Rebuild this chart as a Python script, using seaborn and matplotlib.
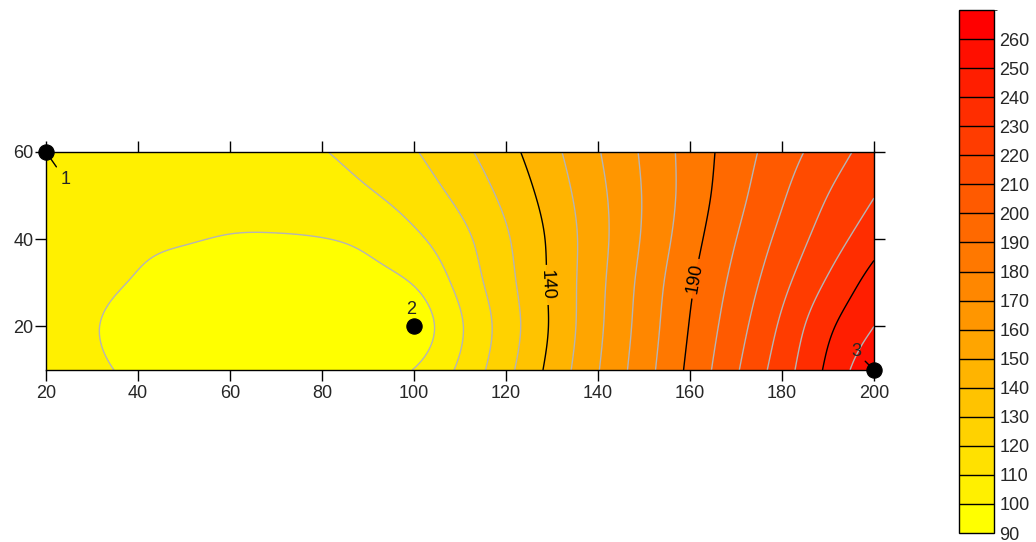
import numpy as np
import matplotlib
matplotlib.use("Agg")
import matplotlib.pyplot as plt
from matplotlib.colors import ListedColormap, BoundaryNorm
from matplotlib.cm import ScalarMappable
import seaborn as sns

# ---------------- data ----------------
x_vals = [20, 30, 40, 50, 60, 70, 80, 90, 100, 110, 120, 130, 140, 150, 160, 170, 180, 190, 200]
y_vals = [10, 20, 30, 40, 50, 60]
z_y10 = [104.0, 101.4, 98.5, 96.3, 95.1, 94.5, 94.7, 96.2, 100.3, 111.8, 127.0, 143.2, 159.5, 175.9, 192.3, 208.8, 225.3, 242.0, 258.7]
z_y20 = [104.0, 100.6, 97.2, 95.3, 94.2, 93.6, 93.4, 93.6, 95.0, 108.8, 124.8, 141.3, 158.0, 174.4, 190.5, 205.9, 221.8, 237.9, 250.0]
z_y30 = [104.3, 101.8, 99.4, 97.0, 95.5, 95.0, 95.2, 97.0, 100.6, 112.9, 126.8, 141.7, 157.3, 173.2, 188.6, 203.0, 217.2, 231.3, 244.0]
z_y40 = [104.5, 102.5, 101.0, 100.4, 99.6, 99.4, 99.8, 102.0, 108.0, 117.0, 128.8, 142.1, 156.5, 171.3, 186.0, 199.9, 212.8, 225.0, 236.0]
z_y50 = [105.0, 103.5, 102.5, 102.0, 102.1, 103.0, 105.1, 108.8, 114.4, 122.3, 132.5, 144.4, 157.3, 170.7, 184.1, 196.9, 208.9, 220.1, 229.7]
z_y60 = [106.0, 105.0, 104.4, 104.3, 104.9, 106.5, 109.5, 113.7, 119.3, 127.3, 136.7, 147.5, 159.3, 171.6, 183.8, 195.0, 205.4, 215.0, 224.6]

levels = list(range(90, 271, 10))
cbar_ticks = list(range(90, 261, 10))
bold_levels = [140, 190, 240]
labelled_levels = [140, 190]
label_positions = [(128.8, 29.5), (160.8, 31.0)]

point_ids = ["1", "2", "3"]
point_x = [20, 100, 200]
point_y = [60, 20, 10]

x_ticks = [20, 40, 60, 80, 100, 120, 140, 160, 180, 200]
y_ticks = [20, 40, 60]


# natural cubic spline weights (smooth rendering of the read grid)
def spline_weights(xk, xq):
    xk = np.asarray(xk, float)
    n = len(xk)
    h = np.diff(xk)
    A = np.zeros((n, n))
    B = np.zeros((n, n))
    A[0, 0] = A[-1, -1] = 1.0
    for i in range(1, n - 1):
        A[i, i - 1] = h[i - 1]
        A[i, i] = 2 * (h[i - 1] + h[i])
        A[i, i + 1] = h[i]
        B[i, i - 1] = 6 / h[i - 1]
        B[i, i] = -6 / h[i - 1] - 6 / h[i]
        B[i, i + 1] = 6 / h[i]
    Mw = np.linalg.solve(A, B)
    W = np.zeros((len(xq), n))
    for k, q in enumerate(xq):
        j = int(np.clip(np.searchsorted(xk, q) - 1, 0, n - 2))
        a = (xk[j + 1] - q) / h[j]
        b = (q - xk[j]) / h[j]
        W[k, j] += a
        W[k, j + 1] += b
        W[k] += ((a ** 3 - a) * Mw[j] + (b ** 3 - b) * Mw[j + 1]) * h[j] ** 2 / 6
    return W


# ---------------- style ----------------
sns.set_style("white")
plt.rcParams["font.family"] = ["Liberation Sans", "DejaVu Sans"]
FS = 13

fig = plt.figure(figsize=(10.36, 5.42), dpi=100)
ax = fig.add_axes([46 / 1036, (542 - 370) / 542, 828 / 1036, 218 / 542])
cax = fig.add_axes([959 / 1036, (542 - 533) / 542, 35 / 1036, 523 / 542])

nb = len(levels) - 1
colors = [(1.0, 1.0 - i / (nb - 1), 0.0) for i in range(nb)]
cmap = ListedColormap(colors)
norm = BoundaryNorm(levels, cmap.N)

Z = np.array([z_y10, z_y20, z_y30, z_y40, z_y50, z_y60])
xq = np.linspace(min(x_vals), max(x_vals), 361)
yq = np.linspace(min(y_vals), max(y_vals), 201)
Zs = spline_weights(y_vals, yq) @ Z @ spline_weights(x_vals, xq).T

ax.contourf(xq, yq, Zs, levels=levels, cmap=cmap, norm=norm)
gray_levels = [lv for lv in levels[1:-1] if lv not in bold_levels]
ax.contour(xq, yq, Zs, levels=gray_levels, colors="#b5b5b5", linewidths=1.0)
unlabelled_bold = [lv for lv in bold_levels if lv not in labelled_levels]
ax.contour(xq, yq, Zs, levels=unlabelled_bold, colors="black", linewidths=1.0)
cs_lab = ax.contour(xq, yq, Zs, levels=labelled_levels, colors="black", linewidths=1.0)
ax.clabel(cs_lab, inline=True, fontsize=FS, fmt="%d", manual=label_positions)

# points
sns.scatterplot(x=point_x, y=point_y, ax=ax, color="black", s=120, edgecolor="black",
                zorder=6, clip_on=False, legend=False)
offsets = [(14, -20), (-2, 12), (-13, 13)]
leaders = [True, False, True]
for pid, px, py, off, ld in zip(point_ids, point_x, point_y, offsets, leaders):
    ax.annotate(pid, xy=(px, py), xytext=off, textcoords="offset points",
                ha="center", va="center", fontsize=FS, zorder=7, annotation_clip=False,
                arrowprops=dict(arrowstyle="-", color="black", lw=1, shrinkA=1, shrinkB=0) if ld else None)

ax.set_xlim(20, 200)
ax.set_ylim(10, 60)
ax.set_xticks(x_ticks)
ax.set_yticks(y_ticks)
ax.tick_params(axis="both", direction="out", length=8, width=1, color="black",
               top=True, right=True, bottom=True, left=True,
               labeltop=False, labelright=False, labelsize=FS)
ax.tick_params(axis="x", pad=3)
ax.tick_params(axis="y", pad=1)
for sp in ax.spines.values():
    sp.set_color("black")
    sp.set_linewidth(1)
    sp.set_visible(True)

cb = fig.colorbar(ScalarMappable(norm=norm, cmap=cmap), cax=cax, ticks=cbar_ticks,
                  drawedges=True, spacing="proportional")
cb.outline.set_edgecolor("black")
cb.outline.set_linewidth(1)
cb.dividers.set_color("black")
cb.dividers.set_linewidth(1)
cax.tick_params(length=0, labelsize=FS, pad=4)

fig.savefig("out.png", dpi=100)
